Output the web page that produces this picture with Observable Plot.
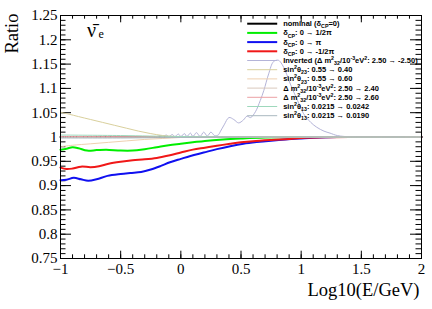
<!DOCTYPE html>
<html><head><meta charset="utf-8">
<script src="https://cdn.jsdelivr.net/npm/d3@7"></script>
<script src="https://cdn.jsdelivr.net/npm/@observablehq/plot@0.6"></script>
<style>body{margin:0;background:#fff}</style>
</head><body><div id="chart"></div>
<script>
// ---- tick labels ----
const xMajorTicks = [-1, -0.5, 0, 0.5, 1, 1.5, 2];
const yMajorTicks = [0.75, 0.8, 0.85, 0.9, 0.95, 1, 1.05, 1.1, 1.15, 1.2, 1.25];
const xMinorTicks = d3.ticks(-1, 2, 30);
const yMinorTicks = d3.ticks(0.75, 1.25, 50);

// ---- series (x = log10(E/GeV), ratio) ----
const nominal = [[-1, 1.0], [2, 1.0]];
const dcpHalfPi = [[-1,0.974],[-0.95,0.976],[-0.9,0.979],[-0.85,0.977],[-0.78,0.972],[-0.7,0.973],[-0.62,0.974],[-0.5,0.972],[-0.4,0.972],[-0.3,0.975],[-0.2,0.979],[-0.1,0.983],[0,0.986],[0.1,0.989],[0.2,0.992],[0.35,0.995],[0.5,0.997],[0.7,0.999],[1.0,1.0],[2,1.0]];
const dcpPi = [[-1,0.911],[-0.95,0.912],[-0.89,0.916],[-0.83,0.913],[-0.77,0.910],[-0.7,0.913],[-0.61,0.920],[-0.5,0.924],[-0.42,0.926],[-0.33,0.928],[-0.25,0.933],[-0.17,0.940],[-0.09,0.948],[0,0.955],[0.08,0.961],[0.19,0.968],[0.3,0.975],[0.41,0.981],[0.52,0.986],[0.63,0.9895],[0.75,0.9925],[0.87,0.995],[1.0,0.997],[1.15,0.999],[1.3,1.0],[2,1.0]];
const dcpMinusHalfPi = [[-1,0.937],[-0.95,0.934],[-0.9,0.935],[-0.83,0.939],[-0.75,0.938],[-0.68,0.940],[-0.6,0.945],[-0.5,0.949],[-0.4,0.952],[-0.3,0.954],[-0.2,0.957],[-0.1,0.962],[0,0.968],[0.1,0.974],[0.2,0.978],[0.3,0.982],[0.41,0.986],[0.5,0.989],[0.6,0.9915],[0.75,0.994],[0.9,0.996],[1.0,0.998],[1.2,0.9995],[1.4,1.0],[2,1.0]];
const inverted = [[-1,1.0],[-0.25,1.0],[-0.2,1.001],[-0.17,1.003],[-0.15,1.001],[-0.12,1.004],[-0.1,1.001],[-0.07,1.005],[-0.05,1.001],[-0.02,1.006],[0,1.001],[0.03,1.007],[0.05,1.001],[0.08,1.008],[0.1,1.001],[0.13,1.009],[0.16,1.001],[0.19,1.010],[0.22,1.002],[0.25,1.010],[0.28,1.003],[0.31,1.004],[0.33,1.012],[0.36,1.025],[0.40,1.040],[0.44,1.036],[0.48,1.029],[0.52,1.035],[0.55,1.043],[0.58,1.040],[0.62,1.052],[0.66,1.075],[0.69,1.096],[0.73,1.130],[0.77,1.155],[0.81,1.158],[0.84,1.150],[0.87,1.135],[0.91,1.109],[0.97,1.075],[1.02,1.048],[1.08,1.030],[1.13,1.020],[1.19,1.012],[1.24,1.008],[1.30,1.003],[1.44,1.0],[2,1.0]];
const th23Low = [[-1,1.051],[-0.93,1.047],[-0.85,1.042],[-0.75,1.036],[-0.65,1.030],[-0.55,1.024],[-0.45,1.018],[-0.35,1.012],[-0.25,1.007],[-0.15,1.003],[-0.05,1.001],[0.1,1.0],[2,1.0]];
const th23High = [[-1,0.980],[-0.9,0.983],[-0.75,0.986],[-0.6,0.989],[-0.45,0.992],[-0.3,0.995],[-0.15,0.997],[0,0.999],[0.2,1.0],[2,1.0]];
const dm32Low = [[-1,0.999],[0,0.9995],[1,1.0],[2,1.0]];
const dm32High = [[-1,1.001],[0,1.0005],[1,1.0],[2,1.0]];
const th13High = [[-1,1.004],[-0.5,1.003],[0,1.001],[1,1.0],[2,1.0]];
const th13Low = [[-1,0.998],[-0.5,0.998],[0,0.999],[1,1.0],[2,1.0]];

// ---- legend ----
const legendLabels = [
  "nominal (δ_{CP}=0)",
  "δ_{CP}: 0 → 1/2π",
  "δ_{CP}: 0 → π",
  "δ_{CP}: 0 → -1/2π",
  "Inverted (Δ m^{2}_{32}/10^{-3}eV^{2}: 2.50 → -2.50)",
  "sin^{2}θ_{23}: 0.55 → 0.40",
  "sin^{2}θ_{23}: 0.55 → 0.60",
  "Δ m^{2}_{32}/10^{-3}eV^{2}: 2.50 → 2.40",
  "Δ m^{2}_{32}/10^{-3}eV^{2}: 2.50 → 2.60",
  "sin^{2}θ_{13}: 0.0215 → 0.0242",
  "sin^{2}θ_{13}: 0.0215 → 0.0190"
];
const seriesData = [nominal, dcpHalfPi, dcpPi, dcpMinusHalfPi, inverted, th23Low, th23High, dm32Low, dm32High, th13High, th13Low];
const seriesColors = ["#000000", "#00ee00", "#1010f0", "#f01818", "#b4b4d8", "#d9d09c", "#efd0b0", "#d9c8bc", "#eba0a4", "#9ed8bc", "#a9b8bf"];
const seriesWidths = [2, 2, 2, 2, 1, 1, 1, 1, 1, 1, 1];

// ---- layout ----
const W = 432, H = 309, ML = 60, MR = 11, MT = 15, MB = 51;
const FW = W - ML - MR, FH = H - MT - MB;
const px2x = d3.scaleLinear([ML, W - MR], [-1, 2]);
const px2y = d3.scaleLinear([MT, H - MB], [1.25, 0.75]);
const serif = "Liberation Serif, Times New Roman, serif";
const sans = "Liberation Sans, Arial, sans-serif";
const fmt = d => String(d).replace("-", "\u2212");

const marks = [];
// ticks inside frame on all four sides
marks.push(Plot.tickX(xMajorTicks, {x: d => d, insetTop: FH - 7.3}));
marks.push(Plot.tickX(xMajorTicks, {x: d => d, insetBottom: FH - 7.3}));
marks.push(Plot.tickX(xMinorTicks, {x: d => d, insetTop: FH - 3.7}));
marks.push(Plot.tickX(xMinorTicks, {x: d => d, insetBottom: FH - 3.7}));
marks.push(Plot.tickY(yMajorTicks, {y: d => d, insetRight: FW - 11}));
marks.push(Plot.tickY(yMajorTicks, {y: d => d, insetLeft: FW - 11}));
marks.push(Plot.tickY(yMinorTicks, {y: d => d, insetRight: FW - 5.5}));
marks.push(Plot.tickY(yMinorTicks, {y: d => d, insetLeft: FW - 5.5}));

// curves
seriesData.forEach((s, i) => {
  marks.push(Plot.line(s, {x: d => d[0], y: d => d[1], stroke: seriesColors[i], strokeWidth: seriesWidths[i], curve: "catmull-rom"}));
});

// legend
const rowPx = i => 23.2 + 9.2 * i;
legendLabels.forEach((lab, i) => {
  const yy = px2y(rowPx(i));
  marks.push(Plot.link([lab], {x1: px2x(246.7), x2: px2x(276.7), y1: yy, y2: yy, stroke: seriesColors[i], strokeWidth: seriesWidths[i]}));
  marks.push(Plot.text([lab], {x: px2x(282.7), y: yy, text: d => d, textAnchor: "start", fontWeight: "bold", fontSize: 7.5, fontFamily: sans, fill: "black"}));
});

// annotations
marks.push(Plot.text(["ν\u0304"], {x: px2x(86.5), y: px2y(30), text: d => d, textAnchor: "start", fontSize: 20, fontFamily: serif}));
marks.push(Plot.text(["e"], {x: px2x(98), y: px2y(34), text: d => d, textAnchor: "start", fontSize: 12, fontFamily: serif}));
marks.push(Plot.text(["Log10(E/GeV)"], {x: px2x(419), y: px2y(290), text: d => d, textAnchor: "end", fontSize: 18.5, fontFamily: serif}));
marks.push(Plot.text(["Ratio"], {x: px2x(11.5), y: px2y(13), text: d => d, textAnchor: "end", rotate: -90, fontSize: 18.5, fontFamily: serif}));
marks.push(Plot.frame({stroke: "black", strokeWidth: 1}));

const chart = Plot.plot({
  width: W, height: H,
  marginLeft: ML, marginRight: MR, marginTop: MT, marginBottom: MB,
  style: {fontFamily: serif, fontSize: "15px", background: "white", color: "black", overflow: "visible"},
  x: {domain: [-1, 2], ticks: xMajorTicks, tickSize: 0, tickPadding: 5, tickFormat: fmt, label: null},
  y: {domain: [0.75, 1.25], ticks: yMajorTicks, tickSize: 0, tickPadding: 3, tickFormat: fmt, label: null},
  marks
});

// rich text for sub/superscripts in legend
const NS = "http://www.w3.org/2000/svg";
chart.querySelectorAll("text").forEach(t => {
  const s = t.textContent;
  if (!/[_^]\{/.test(s)) return;
  while (t.firstChild) t.removeChild(t.firstChild);
  const re = /([_^])\{([^}]*)\}|([^_^]+)/g;
  let m, shift = 0;
  while ((m = re.exec(s))) {
    const ts = document.createElementNS(NS, "tspan");
    const target = m[1] === "_" ? 2.2 : m[1] === "^" ? -3 : 0;
    ts.setAttribute("dy", target - shift);
    shift = target;
    if (m[1]) ts.setAttribute("font-size", "5.3");
    ts.textContent = m[1] ? m[2] : m[3];
    t.appendChild(ts);
  }
});
document.getElementById("chart").appendChild(chart);
</script>
</body></html>
